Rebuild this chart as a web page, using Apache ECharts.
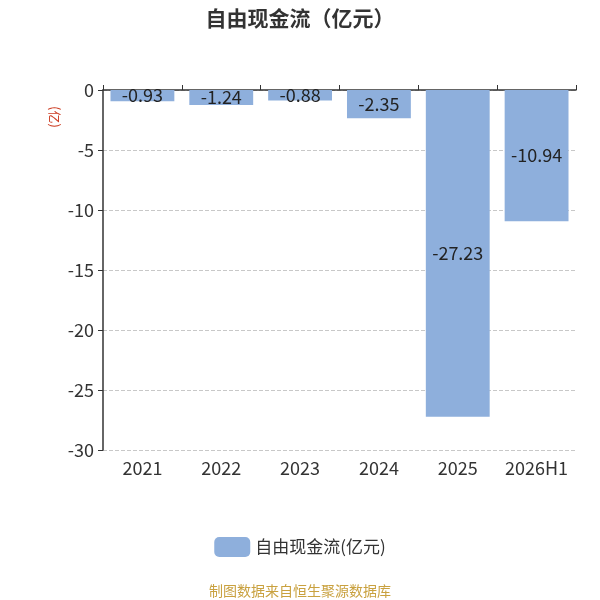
<!DOCTYPE html>
<html>
<head>
<meta charset="utf-8">
<script src="https://cdn.jsdelivr.net/npm/echarts@6/dist/echarts.min.js"></script>
<style>
  html, body { margin: 0; padding: 0; background: #fff; }
  #chart { width: 600px; height: 600px; }
</style>
</head>
<body>
<div id="chart"></div>
<script>
var categories = ['2021', '2022', '2023', '2024', '2025', '2026H1'];
var values = [-0.93, -1.24, -0.88, -2.35, -27.23, -10.94];
var seriesName = '自由现金流(亿元)';

var font = '"Noto Sans CJK SC", "Microsoft YaHei", sans-serif';
var myChart = echarts.init(document.getElementById('chart'));

var option = {
  textStyle: { fontFamily: font },
  title: {
    text: '自由现金流（亿元）',
    left: 'center',
    top: 3,
    textStyle: { fontSize: 21, fontWeight: 'bold', color: '#333', fontFamily: font }
  },
  grid: { left: 103, right: 24, top: 90, bottom: 150 },
  legend: {
    bottom: 38,
    left: 'center',
    itemWidth: 36,
    itemHeight: 20,
    itemGap: 8,
    textStyle: { fontSize: 17, color: '#333', fontFamily: font },
    data: [seriesName]
  },
  graphic: [
    {
      type: 'text',
      left: 'center',
      top: 584,
      style: { text: '制图数据来自恒生聚源数据库', fill: '#c9a13f', fontSize: 14, fontFamily: font }
    },
    {
      type: 'text',
      x: 61,
      y: 106,
      rotation: -Math.PI / 2,
      style: { text: '(亿)', fill: '#cc3b21', fontSize: 13, fontFamily: font }
    }
  ],
  xAxis: [
    {
      type: 'category',
      data: categories,
      position: 'bottom',
      axisLine: { show: false, onZero: false },
      axisTick: { show: false },
      axisLabel: { fontSize: 18, color: '#333', margin: 9, interval: 0 }
    },
    {
      type: 'category',
      data: categories,
      position: 'top',
      axisLine: { show: true, onZero: false, lineStyle: { color: '#333', width: 1.5 } },
      axisTick: { show: true, length: 5, lineStyle: { color: '#333' } },
      axisLabel: { show: false }
    }
  ],
  yAxis: {
    type: 'value',
    min: -30,
    max: 0,
    interval: 5,
    axisLine: { show: true, lineStyle: { color: '#333', width: 1.5 } },
    axisTick: { show: true, length: 5, lineStyle: { color: '#333' } },
    axisLabel: { fontSize: 18, color: '#333', margin: 9 },
    splitLine: { show: true, lineStyle: { type: 'dashed', color: '#c8c8c8' } }
  },
  series: [
    {
      name: seriesName,
      type: 'bar',
      xAxisIndex: 0,
      data: values,
      barWidth: '81%',
      itemStyle: { color: '#8eafdc' },
      label: {
        show: true,
        position: 'inside',
        fontSize: 18,
        color: '#222',
        fontFamily: font
      }
    }
  ]
};

myChart.setOption(option);
</script>
</body>
</html>
